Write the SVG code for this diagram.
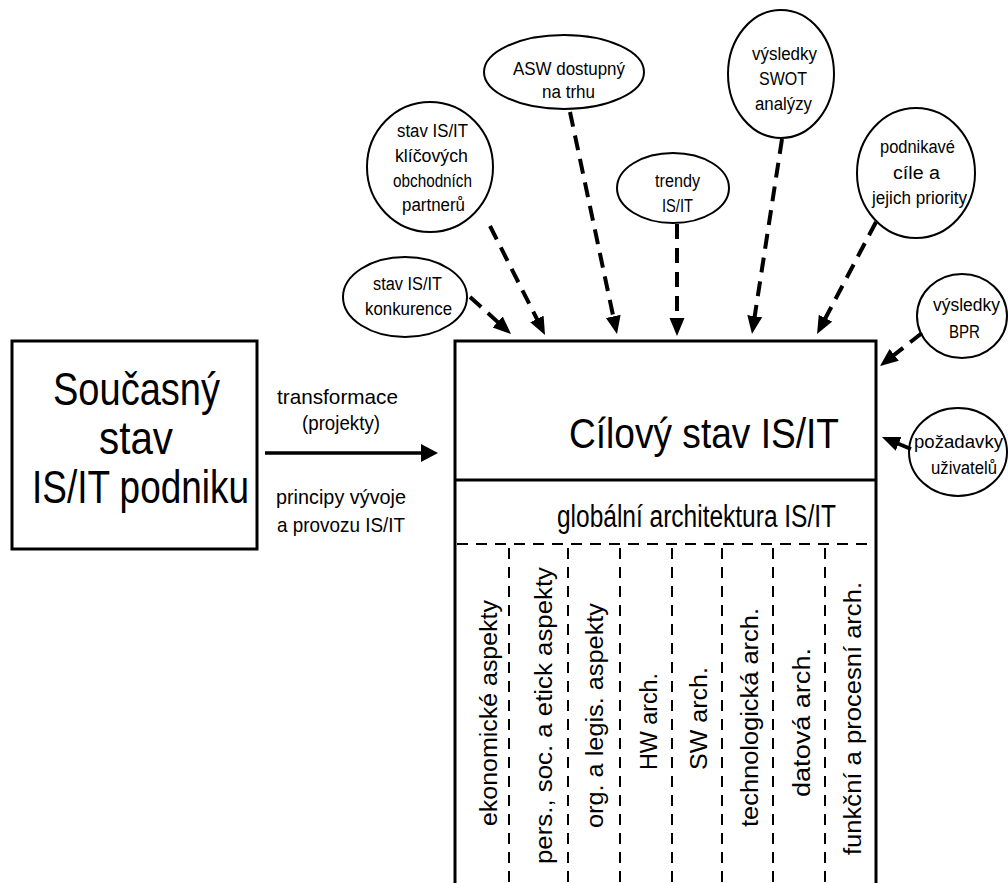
<svg xmlns="http://www.w3.org/2000/svg" width="1008" height="883" viewBox="0 0 1008 883">
  <defs>
    <marker id="head" markerUnits="userSpaceOnUse" markerWidth="20" markerHeight="16" refX="8" refY="7.5" orient="auto">
      <path d="M0,0 L18,7.5 L0,15 z" fill="#000"/>
    </marker>
    <style>
      text { font-family: "Liberation Sans", Arial, sans-serif; fill: #000; }
      .box { fill: #fff; stroke: #000; stroke-width: 3; }
      .bubble { fill: #fff; stroke: #000; stroke-width: 2; }
      .lbl { font-size: 18px; text-anchor: start; }
      .side { font-size: 21px; }
      .col { font-size: 23px; }
      .dep { fill: none; stroke: #000; stroke-width: 4; stroke-dasharray: 15 9; marker-end: url(#head); }
      .grid { fill: none; stroke: #000; stroke-width: 2; stroke-dasharray: 11 8; }
    </style>
  </defs>
  <rect width="1008" height="883" fill="#fff"/>

  <!-- current state -->
  <g id="current-state">
    <rect class="box" x="12" y="341" width="245" height="208"/>
    <text x="53" y="405" font-size="46" textLength="167" lengthAdjust="spacingAndGlyphs">Současný</text>
    <text x="99" y="454" font-size="46" textLength="74" lengthAdjust="spacingAndGlyphs">stav</text>
    <text x="32" y="503" font-size="46" textLength="217" lengthAdjust="spacingAndGlyphs">IS/IT podniku</text>
  </g>

  <!-- transformation labels -->
  <g id="transformation">
    <text class="side" x="277" y="404" textLength="121" lengthAdjust="spacingAndGlyphs">transformace</text>
    <text class="side" x="302" y="430" textLength="78" lengthAdjust="spacingAndGlyphs">(projekty)</text>
    <text class="side" x="276" y="504" textLength="130" lengthAdjust="spacingAndGlyphs">principy vývoje</text>
    <text class="side" x="277" y="532" textLength="128" lengthAdjust="spacingAndGlyphs">a provozu IS/IT</text>
  </g>

  <!-- target state -->
  <g id="target-state">
    <path class="box" d="M455,890 L455,341 L876,341 L876,890"/>
    <line x1="455" y1="480" x2="876" y2="480" stroke="#000" stroke-width="3"/>
    <text x="569" y="448" font-size="42" textLength="270" lengthAdjust="spacingAndGlyphs">Cílový stav IS/IT</text>
    <text x="557" y="527" font-size="31" textLength="279" lengthAdjust="spacingAndGlyphs">globální architektura IS/IT</text>
    <line class="grid" x1="457" y1="544" x2="876" y2="544" stroke-width="2.5"/>
  </g>

  <!-- architecture columns -->
  <g id="columns">
    <g class="grid">
      <line x1="509" y1="548" x2="509" y2="883"/>
      <line x1="568" y1="548" x2="568" y2="883"/>
      <line x1="620" y1="548" x2="620" y2="883"/>
      <line x1="672" y1="548" x2="672" y2="883"/>
      <line x1="722" y1="548" x2="722" y2="883"/>
      <line x1="773" y1="548" x2="773" y2="883"/>
      <line x1="825" y1="548" x2="825" y2="883"/>
    </g>
    <text class="col" transform="translate(497,826) rotate(-90)" textLength="226" lengthAdjust="spacingAndGlyphs">ekonomické aspekty</text>
    <text class="col" transform="translate(552,864) rotate(-90)" textLength="297" lengthAdjust="spacingAndGlyphs">pers., soc. a etick  aspekty</text>
    <text class="col" transform="translate(603,828) rotate(-90)" textLength="225" lengthAdjust="spacingAndGlyphs">org. a legis. aspekty</text>
    <text class="col" transform="translate(657,770) rotate(-90)" textLength="97" lengthAdjust="spacingAndGlyphs">HW arch.</text>
    <text class="col" transform="translate(707,770) rotate(-90)" textLength="103" lengthAdjust="spacingAndGlyphs">SW arch.</text>
    <text class="col" transform="translate(758,827) rotate(-90)" textLength="219" lengthAdjust="spacingAndGlyphs">technologická arch.</text>
    <text class="col" transform="translate(810,797) rotate(-90)" textLength="149" lengthAdjust="spacingAndGlyphs">datová arch.</text>
    <text class="col" transform="translate(861,855) rotate(-90)" textLength="273" lengthAdjust="spacingAndGlyphs">funkční a procesní arch.</text>
  </g>

  <!-- influencing factors -->
  <g id="asw">
    <ellipse class="bubble" cx="564" cy="72" rx="80" ry="37"/>
    <text class="lbl" x="513" y="75" textLength="112" lengthAdjust="spacingAndGlyphs">ASW dostupný</text>
    <text class="lbl" x="542" y="98" textLength="53" lengthAdjust="spacingAndGlyphs">na trhu</text>
  </g>
  <g id="partners">
    <ellipse class="bubble" cx="430" cy="167" rx="63" ry="65"/>
    <text class="lbl" x="397" y="137" textLength="71" lengthAdjust="spacingAndGlyphs">stav IS/IT</text>
    <text class="lbl" x="395" y="162" textLength="73" lengthAdjust="spacingAndGlyphs">klíčových</text>
    <text class="lbl" x="393" y="187" textLength="79" lengthAdjust="spacingAndGlyphs">obchodních</text>
    <text class="lbl" x="402" y="211" textLength="63" lengthAdjust="spacingAndGlyphs">partnerů</text>
  </g>
  <g id="competition">
    <ellipse class="bubble" cx="405" cy="297" rx="62" ry="40"/>
    <text class="lbl" x="373" y="290" textLength="69" lengthAdjust="spacingAndGlyphs">stav IS/IT</text>
    <text class="lbl" x="365" y="315" textLength="87" lengthAdjust="spacingAndGlyphs">konkurence</text>
  </g>
  <g id="trends">
    <ellipse class="bubble" cx="673" cy="188" rx="56" ry="35"/>
    <text class="lbl" x="655" y="187" textLength="45" lengthAdjust="spacingAndGlyphs">trendy</text>
    <text class="lbl" x="662" y="212" textLength="31" lengthAdjust="spacingAndGlyphs">IS/IT</text>
  </g>
  <g id="swot">
    <ellipse class="bubble" cx="781" cy="74" rx="53" ry="64"/>
    <text class="lbl" x="752" y="60" textLength="65" lengthAdjust="spacingAndGlyphs">výsledky</text>
    <text class="lbl" x="759" y="85" textLength="48" lengthAdjust="spacingAndGlyphs">SWOT</text>
    <text class="lbl" x="755" y="110" textLength="57" lengthAdjust="spacingAndGlyphs">analýzy</text>
  </g>
  <g id="goals">
    <ellipse class="bubble" cx="916" cy="173" rx="59" ry="65"/>
    <text class="lbl" x="880" y="153" textLength="75" lengthAdjust="spacingAndGlyphs">podnikavé</text>
    <text class="lbl" x="893" y="179" textLength="47" lengthAdjust="spacingAndGlyphs">cíle a</text>
    <text class="lbl" x="872" y="204" textLength="95" lengthAdjust="spacingAndGlyphs">jejich priority</text>
  </g>
  <g id="bpr">
    <ellipse class="bubble" cx="962" cy="316" rx="45" ry="42"/>
    <text class="lbl" x="933" y="311" textLength="67" lengthAdjust="spacingAndGlyphs">výsledky</text>
    <text class="lbl" x="949" y="338" textLength="31" lengthAdjust="spacingAndGlyphs">BPR</text>
  </g>
  <g id="users">
    <ellipse class="bubble" cx="958" cy="452" rx="49" ry="44"/>
    <text class="lbl" x="914" y="448" textLength="89" lengthAdjust="spacingAndGlyphs">požadavky</text>
    <text class="lbl" x="931" y="474" textLength="66" lengthAdjust="spacingAndGlyphs">uživatelů</text>
  </g>

  <!-- connectors -->
  <g id="connectors">
    <line x1="265" y1="453" x2="424" y2="453" stroke="#000" stroke-width="3.5"/>
    <path d="M421,444 L438,453 L421,462 z" fill="#000"/>
    <line class="dep" x1="470" y1="297" x2="503.6" y2="327.3"/>
    <line class="dep" x1="490" y1="226" x2="540.5" y2="326.1"/>
    <line class="dep" x1="570" y1="112" x2="614.9" y2="324.2"/>
    <line class="dep" x1="677" y1="224" x2="677" y2="326"/>
    <line class="dep" x1="782" y1="139" x2="753.5" y2="324.1"/>
    <line class="dep" x1="876" y1="222" x2="821.7" y2="325.2"/>
    <line class="dep" x1="922" y1="333" x2="887.9" y2="359.8"/>
    <line class="dep" x1="911" y1="449" x2="891.2" y2="440.8"/>
  </g>
</svg>
